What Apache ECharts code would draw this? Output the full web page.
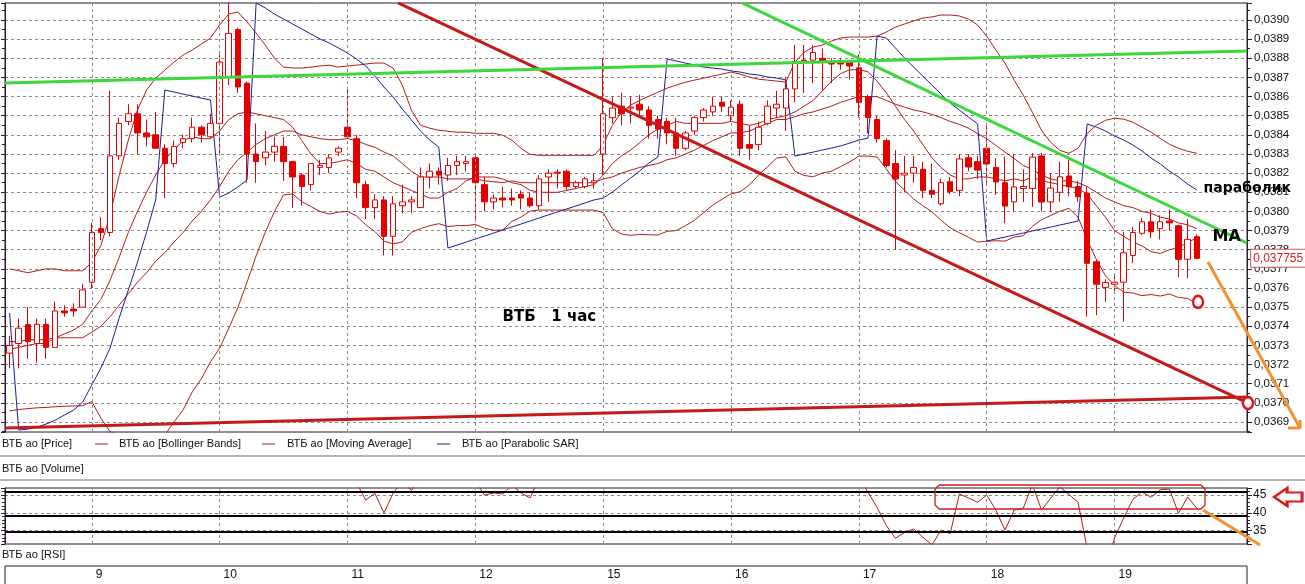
<!DOCTYPE html>
<html>
<head>
<meta charset="utf-8">
<script src="https://cdn.jsdelivr.net/npm/echarts@6/dist/echarts.min.js"></script>
<style>
html,body{margin:0;padding:0;background:#ffffff;}
#chart{width:1305px;height:584px;}
</style>
</head>
<body>
<div id="chart"></div>
<script>
// ================= DATA =================
// hourly sessions
const tradingDays = ['8','9','10','11','12','15','16','17','18','19'];
const sessionHours = ['10:00','11:00','12:00','13:00','14:00','15:00','16:00','17:00','18:00','19:00','20:00','21:00','22:00','23:00'];
const firstCandleHour = '15:00';
const emptySlotsAfter = 5;

// price values in points of 0.00001 (e.g. 3726 = 0,03726)
const openPts = [3726,3731,3741,3731,3741,3729,3748,3749,3750,3763,
 3791,3789,3829,3847,3851,3841,3840,3833,3825,3836,
 3838,3844,3839,3846,3870,3895,3867,3830,3828,3831,
 3834,3826,3819,3814,3823,3823,3831,3844,3838,3814,
 3802,3806,3787,3803,3805,3802,3818,3821,3819,3824,
 3825,3828,3814,3805,3807,3807,3809,3807,3803,3818,
 3820.5,3821,3813,3813,3815,3830,3849,3855,3854,3856,
 3853,3848,3847,3841,3833,3842,3849,3852,3857,3850,
 3856,3835,3835,3846,3854,3854,3864,3879,3879,3880,
 3878,3878,3878,3875,3860,3848,3837,3825,3819,3820,
 3822,3811,3804,3815.5,3811,3828,3826,3833,3823,3815,
 3805,3812,3812,3829,3805,3810,3818.5,3813,3809.5,3773.7,
 3760.3,3762,3763,3777,3788.6,3794.6,3791,3795,3792.5,3775,
 3786.8];
const highPts = [3735,3744,3750,3744,3744,3753,3751,3752,3762,3794,
 3797,3863,3849,3856,3856,3848,3852,3835,3837,3840,
 3849,3845,3851,3882,3909,3896,3868,3846,3842,3839,
 3839,3826,3820,3825,3827,3830,3834,3865,3840,3816,
 3809,3808,3808,3814,3808,3823,3825,3823,3828,3829,
 3829,3829,3818,3809,3813,3812,3811,3810,3819,3822,
 3822,3822,3816,3818,3820,3880,3860,3862,3860,3861,
 3855,3850,3849,3849,3842,3850,3854,3860,3860,3858,
 3858,3845,3847,3858,3863,3870,3887,3887,3887,3885,
 3880,3880,3879,3882,3861,3850,3838,3832,3829,3829,
 3826,3825,3817,3818,3830,3830,3829,3846,3828,3828.6,
 3830,3822,3830.5,3830.6,3820,3826,3827,3816,3812.9,3774.6,
 3764.5,3767,3789.4,3791.8,3796.5,3801,3798,3801,3793,3796,
 3788];
const lowPts = [3718,3718,3723,3721,3723,3729,3745,3745,3750,3760,
 3785,3787,3827,3845,3830,3834,3833,3807,3823,3833,
 3836,3836,3838,3829,3866,3862,3815,3815,3824,3826,
 3816,3802,3803,3811,3819,3820,3829,3838,3807,3796,
 3796,3777,3777,3799,3799,3802,3812,3814,3816,3819,
 3821,3796,3800,3801,3802,3803,3801,3802,3801,3805,
 3812,3811,3812,3812,3812,3819,3846,3845,3846,3849,
 3838,3838,3835,3829,3832,3840,3847,3850,3852,3847,
 3829,3827,3832,3845,3849,3842,3857,3862,3867,3863,
 3867,3874,3869,3849,3841,3836,3823,3780,3810,3815,
 3807,3807,3803,3809,3808,3821,3817,3815,3808.6,3793.8,
 3800,3805,3802.3,3800,3800,3805,3808,3805,3745,3745.8,
 3752.8,3758,3742.4,3773,3787.8,3786,3785.4,3790,3765.7,3765,
 3775];
const closePts = [3730,3739,3732,3741,3729,3748,3747,3748,3759,3789,
 3789,3829,3846,3851,3841,3839,3833,3825,3834,3838,
 3844,3840,3846,3878,3893,3865,3830,3826,3831,3834,
 3826,3818,3813,3825,3824,3828,3833,3839,3815,3802,
 3806,3787,3804,3805,3806,3818,3821,3819,3824,3826,
 3826,3815,3805,3807,3806,3806,3807,3803,3817,3820,
 3820,3813,3815,3817,3816,3851,3854,3851,3854.5,3853,
 3845,3843,3841,3833,3841,3849,3853,3855,3855,3854.5,
 3833,3833,3844,3855,3856,3864,3878,3878,3883,3878,
 3877,3877,3876,3857,3849,3838,3824,3817,3820,3823,
 3811,3809,3815,3810.3,3827.4,3823.2,3821.6,3824.8,3815.4,3802.8,
 3812.8,3813,3828.4,3804.9,3812.2,3818.1,3812.9,3807.7,3772.9,3762,
 3762.9,3763,3778.4,3789,3794.6,3789.4,3794.6,3794,3775,3785.4,
 3775.5];
const bbUpperPts = [3770,3769,3768,3769,3770,3770,3769,3769,3769,3773.3,
 3782.2,3797.9,3818.8,3837.2,3852.9,3863.4,3869.6,3873.8,3878,3881.7,
 3884.3,3887.4,3890.6,3897.4,3903.1,3904.2,3899,3893.2,3886.9,3880.1,
 3875.4,3874.9,3874.9,3875.4,3876,3876.4,3875.4,3876,3876.4,3877,
 3877.5,3877.5,3874.9,3866,3852.9,3845,3843.5,3842.4,3841.9,3841.4,
 3841.4,3840.8,3840.8,3840.8,3839.8,3837.2,3833,3829.8,3829.3,3829.3,
 3829.3,3829.3,3829.3,3829.3,3829.3,3834.6,3845,3851.8,3855.5,3858,
 3860.2,3862.3,3864.4,3866,3867.5,3868.6,3869.6,3870.7,3871.7,3872.8,
 3871.7,3870.2,3869.1,3868.6,3868.1,3867.5,3878,3883.2,3885.9,3886.9,
 3889,3890.6,3891.1,3891.1,3891.1,3891.6,3893.7,3896.3,3897.9,3899.5,
 3901,3901.6,3902.6,3902.6,3902.1,3900.5,3897.4,3891.6,3884.3,3877.5,
 3868.6,3860.7,3851.8,3842.4,3836.1,3831.9,3830.4,3833,3840.8,3845,
 3847.6,3848.7,3848.2,3846.6,3844,3841.4,3838.2,3835.1,3833,3831.4,
 3830.4];
const bbMiddlePts = [3732,3732,3733,3733,3733,3734,3734,3734,3734,3737,
 3740,3745,3751,3757,3763,3768,3774,3778.5,3784,3789,
 3795,3800,3806,3813,3821,3827,3831,3835,3838,3840,
 3842,3842,3840,3839,3838,3837.5,3837.5,3838,3837,3835,
 3833.5,3831,3829,3825,3821,3818,3818,3818,3817,3817,
 3817,3817,3816,3815.5,3815,3816,3815,3815,3815,3815,
 3815,3815,3815,3815,3815,3817,3818,3820,3821.5,3823,
 3824,3825,3827,3828,3830,3832,3834.5,3837,3839,3841,
 3841,3842,3844,3846,3848,3848,3849.5,3851,3852,3853.5,
 3855,3857,3858.5,3860,3860,3860,3858,3856,3854.5,3853,
 3852,3850.7,3849,3847,3845.5,3843.5,3840.7,3838,3834.5,3831,
 3827.6,3824,3822,3819,3817,3816,3816,3815,3813,3810,
 3807,3805,3803,3802,3800,3799,3797,3796,3794,3793,
 3791];
const bbLowerPts = [3695.8,3696.5,3697,3697.4,3697.6,3698,3698.2,3698.4,3698.5,3700.7,
 3692,3685,3683.2,3676.8,3673.1,3672.6,3678.4,3683.2,3690,3696.3,
 3705.7,3712.6,3721.4,3728.6,3738.9,3749.8,3763,3776.8,3789.1,3799.9,
 3808.6,3809.1,3805.1,3802.6,3800,3798.6,3799.6,3800,3797.6,3793,
 3789.5,3784.5,3783.1,3784,3789.1,3791,3792.5,3793.6,3792.1,3792.6,
 3792.6,3793.2,3791.2,3790.2,3790.2,3794.8,3797,3800.2,3800.7,3800.7,
 3800.7,3800.7,3800.7,3800.7,3800.7,3799.4,3791,3788.2,3787.5,3788,
 3787.8,3787.7,3789.6,3790,3792.5,3795.4,3799.4,3803.3,3806.3,3809.2,
 3810.3,3813.8,3818.9,3823.4,3827.9,3828.5,3821,3818.8,3818.1,3820.1,
 3821,3823.4,3825.9,3828.9,3828.9,3828.4,3822.3,3815.7,3811.1,3806.5,
 3803,3799.8,3795.4,3791.4,3788.9,3786.5,3784,3784.4,3784.7,3784.5,
 3786.6,3787.3,3792.2,3795.6,3797.9,3800.1,3801.6,3797,3785.2,3775,
 3766.4,3761.3,3757.8,3757.4,3756,3756.6,3755.8,3756.9,3755,3754.6,
 3751.6];
const maPts = [3728,3729,3730,3731,3731,3734,3736,3738,3741,3748,
 3754,3764,3776,3789,3800,3810,3819,3827,3832,3837,
 3839,3838,3838,3842,3848,3851,3852,3851,3850,3849,
 3848,3844,3837,3830,3825,3825,3826,3827,3825,3822,
 3821,3818,3815,3813,3811,3809,3807,3807,3810,3812,
 3816,3818,3818,3818,3817,3815,3814,3811,3810,3810,
 3810,3811,3812,3813,3814,3819,3825,3829,3832,3836,
 3840,3843,3845,3847,3846,3846,3846,3846,3846,3847,
 3846,3845,3846,3848,3849,3850,3852,3855,3858,3863,
 3868,3872,3874,3874,3873,3868,3862,3855,3848,3842,
 3835,3828,3823,3819,3817,3817,3818,3818,3817,3816,
 3817,3816,3818,3816,3815,3814,3813,3812,3809,3803,
 3797,3790,3787,3784,3782,3779,3778,3780,3781,3784,
 3786];
const sarPts = [3746.9,3685.8,3686.3,3687.4,3688.9,3691,3693.6,3696.2,3700.4,3709.3,
 3718.2,3728.6,3744.3,3758.9,3773.4,3789.2,3806,3863.4,3862.4,3861.3,
 3860.3,3859.2,3858.2,3807.5,3809.6,3812.8,3816.4,3908.9,3906.3,3903.1,
 3900.5,3897.9,3895.3,3892.7,3890.1,3888,3885.4,3882.8,3879.6,3876,
 3870.7,3865,3859.8,3853.5,3847.8,3842,3837.3,3833.6,3780.9,3782.4,
 3784,3785.6,3787.1,3788.7,3790.3,3791.9,3793.4,3795,3796.6,3798.2,
 3799.7,3801.3,3802.8,3804.4,3806,3807,3810.1,3813.8,3817.4,3821.1,
 3825.3,3828.4,3879.6,3878.6,3877.5,3876.5,3875.4,3874.9,3874.4,3873.4,
 3872.8,3871.8,3871.3,3870.2,3869.7,3868.7,3828.9,3830,3831,3832.1,
 3833.1,3834.2,3835.7,3837.3,3838.3,3891.6,3890.6,3885.4,3880.1,3875.4,
 3870.7,3866,3861.3,3856.6,3853,3849.3,3845.7,3784.5,3785.6,3786.6,
 3787.7,3788.7,3789.8,3790.8,3791.8,3792.9,3793.9,3795,3845.7,3844.1,
 3842,3839.4,3837.3,3834.7,3831.6,3827.9,3824.8,3821.1,3818,3814.3,
 3811.2];
// RSI: only the stretches that appear inside the panel [first candle index, values]
const rsiSegments = [
  [38, [48.5,43.6,45.5,40,45.5,49,46.3,50]],
  [51, [49,45,45.6,45.3,47.8,45.6,44.2,50]],
  [93, [50,45.8,41.5,36.5,32.9,34.5,35.5,33.2,31,35.2,
        34.2,45.3,44.2,43,45,40.8,35.2,40.8,41.3,48,
        40.8,44.1,47.3,45.2,43,30,25,24,33,38.6,
        43.8,45.9,44.4,46.5,46.7,39.9,44.5,41.3]]
];
// user drawn levels
const priceLevelPts = [3900, 3853, 3780];
const rsiLevels = [45.88, 39.13, 34.64];
// trend lines: [slot, points] pairs (slot = hourly bar position)
const redTrendA = [[42.54, 3908.9], [135.61, 3699.9]];
const redTrendB = [[-0.5, 3686.9], [135.61, 3703.1]];
const greenTrendA = [[-0.5, 3867.1], [135.5, 3883.8]];
const greenTrendB = [[80.21, 3908.9], [135.5, 3783.5]];
const orangeArrow = [[131.23, 3773.6], [141.31, 3686.9]];
const orangeArrowHead = [[140.0, 3686.9], [141.31, 3686.9], [141.31, 3691.0]];
const circleMarks = [[135.61, 3699.9], [130.14, 3752.7]];
const noteTexts = ['ВТБ   1 час', 'параболик', 'MA'];
const noteAnchors = [[53.92, 3744.9], [130.69, 3812.2], [131.67, 3786.6]];
// RSI panel annotations [slot, rsi]
const rsiOrangeLine = [[130.69, 40.82], [136.93, 30.99]];
const rsiBoxSlots = [101.34, 130.9];   // left / right edge of the highlight box
const rsiBoxLevels = [41.1, 47.84];    // bottom / top edge of the highlight box
const rsiArrowCenter = [140.0, 44.47];

// ================= BUILD =================
const N = closePts.length;
const toPrice = v => v == null ? null : Math.round(v * 10) / 1e6;
const allSlots = [];
tradingDays.forEach(d => sessionHours.forEach(h => allSlots.push(d + ' ' + h)));
const startIdx = sessionHours.indexOf(firstCandleHour);
const categories = allSlots.slice(startIdx, startIdx + N);
for (let k = 0; k < emptySlotsAfter; k++) categories.push('+' + (k + 1));
const M = categories.length;
const dayStarts = [];
categories.forEach((c, i) => { if (i < N && c.endsWith(' 10:00')) dayStarts.push(i); });
const isDayStart = i => dayStarts.indexOf(i) >= 0;

const candleData = openPts.map((o, i) => [toPrice(o), toPrice(closePts[i]), toPrice(lowPts[i]), toPrice(highPts[i])]);
const rsiData = new Array(N).fill(null);
rsiSegments.forEach(([s, vals]) => vals.forEach((v, k) => { rsiData[s + k] = v; }));
const ptsLine = arr => arr.map(([x, y]) => [x, toPrice(y)]);
const lastClose = toPrice(closePts[N - 1]);
// highlight box outline with small cut corners
const CUT_X = 0.45, CUT_Y = 1.1;
const [bx0, bx1] = rsiBoxSlots, [by0, by1] = rsiBoxLevels;
const rsiBoxOutline = [[bx0 + CUT_X, by1], [bx1 - CUT_X, by1], [bx1, by1 - CUT_Y], [bx1, by0 + CUT_Y],
  [bx1 - CUT_X, by0], [bx0 + CUT_X, by0], [bx0, by0 + CUT_Y], [bx0, by1 - CUT_Y], [bx0 + CUT_X, by1]];

// layout
const CANVAS_W = 1305, PLOT_LEFT = 5, PLOT_RIGHT = 58;
const PLOT_W = CANVAS_W - PLOT_LEFT - PLOT_RIGHT;
const OVER_W = CANVAS_W - PLOT_LEFT;            // overlay area reaches into the label column
const OVER_MAX = -0.5 + M * OVER_W / PLOT_W;    // same slot width as the plot
const TAG_SLOT = M - 0.5 + 0.4;                 // last-price tag just right of the plot edge

const FONT = '"Liberation Sans", Arial, sans-serif';
const NOTE_FONT = '"DejaVu Sans", "Liberation Sans", sans-serif';
const FRAME = '#2e1a33';
const CANDLE = '#e50000';
const BAND = '#b11c1c';
const SAR = '#1d1d94';
const Y_MIN = 0.0368478, Y_MAX = 0.0390888;
const RSI_MIN = 31.27, RSI_MAX = 47.0;

const dayLineStyle = {color:'#8a8a8a', type:[3,3], width:1};

const option = {
  animation: false,
  backgroundColor: '#ffffff',
  textStyle: {fontFamily: FONT},
  grid: [
    {left:PLOT_LEFT, right:PLOT_RIGHT, top:3, height:429, show:true, borderColor:FRAME, borderWidth:1, containLabel:false, outerBoundsMode:'none'},
    {left:PLOT_LEFT, right:PLOT_RIGHT, top:488, height:56, show:true, borderColor:FRAME, borderWidth:1, containLabel:false, outerBoundsMode:'none'},
    {left:PLOT_LEFT, right:PLOT_RIGHT, top:566, height:26, show:true, borderColor:FRAME, borderWidth:1, containLabel:false, outerBoundsMode:'none'},
    {left:PLOT_LEFT, width:OVER_W, top:3, height:429, show:false, containLabel:false, outerBoundsMode:'none'},
    {left:PLOT_LEFT, width:OVER_W, top:488, height:56, show:false, containLabel:false, outerBoundsMode:'none'}
  ],
  xAxis: [
    {type:'category', gridIndex:0, data:categories, show:false, boundaryGap:true},
    {type:'value', gridIndex:3, min:-0.5, max:OVER_MAX, show:false},
    {type:'category', gridIndex:1, data:categories, show:false, boundaryGap:true},
    {type:'value', gridIndex:4, min:-0.5, max:OVER_MAX, show:false},
    {type:'category', gridIndex:2, data:categories, position:'top', boundaryGap:true,
     axisLine:{show:true, lineStyle:{color:FRAME}},
     axisTick:{show:true, inside:true, length:26, alignWithLabel:true, interval:(i) => isDayStart(i), lineStyle:{color:FRAME}},
     axisLabel:{show:true, inside:true, interval:(i) => isDayStart(i), formatter:v => v.split(' ')[0],
       align:'left', verticalAlign:'top', padding:[0,0,0,4], margin:3, fontSize:12, color:'#111', fontFamily:FONT},
     splitLine:{show:false}}
  ],
  yAxis: [
    {type:'value', gridIndex:0, position:'right', min:Y_MIN, max:Y_MAX, splitNumber:22, minInterval:0.0001, maxInterval:0.0001,
     axisLine:{show:true, lineStyle:{color:FRAME}},
     axisTick:{show:true, length:5, lineStyle:{color:FRAME}},
     minorTick:{show:true, splitNumber:2, length:3, lineStyle:{color:FRAME}},
     axisLabel:{show:true, margin:7, color:'#111', fontSize:11.5, fontFamily:FONT,
       formatter:v => (Math.abs(v * 1e4 - Math.round(v * 1e4)) < 1e-6) ? v.toFixed(4).replace('.', ',') : ''},
     splitLine:{show:true, lineStyle:{color:'#8a8a8a', type:[3,3], width:1}}},
    {type:'value', gridIndex:0, position:'left', min:Y_MIN, max:Y_MAX, splitNumber:22, minInterval:0.0001, maxInterval:0.0001,
     axisLine:{show:true, lineStyle:{color:FRAME}},
     axisTick:{show:true, length:4, lineStyle:{color:FRAME}},
     minorTick:{show:true, splitNumber:2, length:3, lineStyle:{color:FRAME}},
     axisLabel:{show:false}, splitLine:{show:false}},
    {type:'value', gridIndex:1, position:'right', min:RSI_MIN, max:RSI_MAX, splitNumber:3, minInterval:5, maxInterval:5,
     axisLine:{show:true, lineStyle:{color:FRAME}},
     axisTick:{show:true, length:5, lineStyle:{color:FRAME}},
     minorTick:{show:true, splitNumber:5, length:3, lineStyle:{color:FRAME}},
     axisLabel:{show:true, margin:6, color:'#111', fontSize:12, fontFamily:FONT,
       formatter:v => (Math.abs(v - Math.round(v)) < 1e-6 && Math.round(v) % 5 === 0) ? String(Math.round(v)) : ''},
     splitLine:{show:true, lineStyle:{color:'#8a8a8a', type:[3,3], width:1}}},
    {type:'value', gridIndex:1, position:'left', min:RSI_MIN, max:RSI_MAX, splitNumber:3, minInterval:5, maxInterval:5,
     axisLine:{show:true, lineStyle:{color:FRAME}},
     axisTick:{show:true, length:4, lineStyle:{color:FRAME}},
     minorTick:{show:true, splitNumber:5, length:3, lineStyle:{color:FRAME}},
     axisLabel:{show:false}, splitLine:{show:false}},
    {type:'value', gridIndex:2, show:false, min:0, max:1},
    {type:'value', gridIndex:3, show:false, min:Y_MIN, max:Y_MAX},
    {type:'value', gridIndex:4, show:false, min:RSI_MIN, max:RSI_MAX}
  ],
  series: [
    {name:'BB upper', type:'line', xAxisIndex:0, yAxisIndex:0, data:bbUpperPts.map(toPrice), symbol:'none', silent:true, z:2,
     lineStyle:{color:BAND, width:1},
     markLine:{silent:true, symbol:'none', label:{show:false}, lineStyle:dayLineStyle,
       data: dayStarts.map(i => ({xAxis:i}))}},
    {name:'BB middle', type:'line', xAxisIndex:0, yAxisIndex:0, data:bbMiddlePts.map(toPrice), symbol:'none', silent:true, z:2,
     lineStyle:{color:BAND, width:1}},
    {name:'BB lower', type:'line', xAxisIndex:0, yAxisIndex:0, data:bbLowerPts.map(toPrice), symbol:'none', silent:true, z:2,
     lineStyle:{color:BAND, width:1}},
    {name:'MA', type:'line', xAxisIndex:0, yAxisIndex:0, data:maPts.map(toPrice), symbol:'none', silent:true, z:2,
     lineStyle:{color:BAND, width:1}},
    {name:'SAR', type:'line', xAxisIndex:0, yAxisIndex:0, data:sarPts.map(toPrice), symbol:'none', silent:true, z:2,
     lineStyle:{color:SAR, width:1}},
    {name:'Price', type:'candlestick', xAxisIndex:0, yAxisIndex:0, data:candleData, barWidth:6, z:3, silent:true,
     itemStyle:{color:'#ffffff', color0:CANDLE, borderColor:CANDLE, borderColor0:CANDLE, borderColorDoji:CANDLE, borderWidth:1}},
    // horizontal levels
    {name:'levels', type:'line', xAxisIndex:0, yAxisIndex:0, data:new Array(N).fill(null), symbol:'none', silent:true, z:5,
     markLine:{silent:true, symbol:'none', label:{show:false}, lineStyle:{color:'#000', width:2, type:'solid'},
       data: priceLevelPts.map(v => ({yAxis: toPrice(v)}))}},
    // last price tag
    {type:'scatter', xAxisIndex:1, yAxisIndex:5, clip:false, silent:true, z:10, symbol:'circle', symbolSize:1,
     itemStyle:{color:'rgba(0,0,0,0)', opacity:1},
     label:{show:true, position:'right', distance:0, formatter:p => p.value[1].toFixed(6).replace('.', ','),
       color:'#cc2020', backgroundColor:'#ffffff', borderColor:'#c85a5a', borderWidth:1, padding:[3,2,2,2],
       fontSize:12, fontFamily:FONT},
     data:[[TAG_SLOT, lastClose]]},
    {type:'line', xAxisIndex:1, yAxisIndex:5, data:ptsLine(redTrendA), symbol:'none', silent:true, z:5,
     lineStyle:{color:'#c41a1a', width:3}},
    {type:'line', xAxisIndex:1, yAxisIndex:5, data:ptsLine(redTrendB), symbol:'none', silent:true, z:5,
     lineStyle:{color:'#c41a1a', width:3}},
    {type:'line', xAxisIndex:1, yAxisIndex:5, data:ptsLine(greenTrendA), symbol:'none', silent:true, z:5,
     lineStyle:{color:'#3ad83a', width:3}},
    {type:'line', xAxisIndex:1, yAxisIndex:5, data:ptsLine(greenTrendB), symbol:'none', silent:true, z:5,
     lineStyle:{color:'#3ad83a', width:3}},
    {type:'line', xAxisIndex:1, yAxisIndex:5, data:ptsLine(orangeArrow), symbol:'none', silent:true, z:6, clip:false,
     lineStyle:{color:'#f2922f', width:3}},
    {type:'line', xAxisIndex:1, yAxisIndex:5, data:ptsLine(orangeArrowHead), symbol:'none', silent:true, z:6, clip:false,
     lineStyle:{color:'#f2922f', width:3}},
    {type:'scatter', xAxisIndex:1, yAxisIndex:5, data:ptsLine(circleMarks), symbol:'circle', symbolSize:[10,12], clip:false, silent:true, z:7,
     itemStyle:{color:'#ffffff', borderColor:'#e0141e', borderWidth:2.5, opacity:1}},
    {type:'scatter', xAxisIndex:1, yAxisIndex:5, clip:false, silent:true, z:9, symbol:'circle', symbolSize:1,
     itemStyle:{color:'rgba(0,0,0,0)', opacity:1},
     label:{show:true, position:'right', distance:0, color:'#000', fontWeight:'bold', fontFamily:NOTE_FONT, formatter:p => p.name},
     data: noteTexts.map((t, i) => ({name:t, value:[noteAnchors[i][0], toPrice(noteAnchors[i][1])],
        label:{fontSize: [15, 14, 16][i]}}))},
    // RSI panel
    {name:'RSI', type:'line', xAxisIndex:2, yAxisIndex:2, data:rsiData, symbol:'none', connectNulls:false, silent:true, z:3,
     lineStyle:{color:BAND, width:1},
     markLine:{silent:true, symbol:'none', label:{show:false},
       data: dayStarts.map(i => ({xAxis:i, lineStyle:dayLineStyle}))
         .concat(rsiLevels.map(v => ({yAxis:v, lineStyle:{color:'#000', width:2, type:'solid'}})))}},
    {type:'line', xAxisIndex:3, yAxisIndex:6, data:rsiOrangeLine, symbol:'none', silent:true, z:6, clip:false,
     lineStyle:{color:'#f2922f', width:3}},
    {type:'line', xAxisIndex:3, yAxisIndex:6, data:rsiBoxOutline, symbol:'none', silent:true, z:7, clip:false,
     lineStyle:{color:'#c81e1e', width:1.3}},
    {type:'scatter', xAxisIndex:3, yAxisIndex:6, data:[rsiArrowCenter], symbol:'path://M0,10L13,0L13,5L28,5L28,15L13,15L13,20Z',
     symbolSize:[28,18], clip:false, silent:true, z:6,
     itemStyle:{color:'#ffffff', borderColor:'#e01818', borderWidth:2.5, opacity:1}}
  ],
  graphic: [
    {type:'text', x:2, y:444, silent:true, style:{text:'ВТБ ао [Price]', fill:'#111', font:'11px ' + FONT, verticalAlign:'middle'}},
    {type:'line', silent:true, shape:{x1:95, y1:444, x2:108, y2:444}, style:{stroke:BAND, lineWidth:1}},
    {type:'text', x:119, y:444, silent:true, style:{text:'ВТБ ао [Bollinger Bands]', fill:'#111', font:'11px ' + FONT, verticalAlign:'middle'}},
    {type:'line', silent:true, shape:{x1:262, y1:444, x2:275, y2:444}, style:{stroke:BAND, lineWidth:1}},
    {type:'text', x:287, y:444, silent:true, style:{text:'ВТБ ао [Moving Average]', fill:'#111', font:'11px ' + FONT, verticalAlign:'middle'}},
    {type:'line', silent:true, shape:{x1:437, y1:444, x2:450, y2:444}, style:{stroke:SAR, lineWidth:1}},
    {type:'text', x:462, y:444, silent:true, style:{text:'ВТБ ао [Parabolic SAR]', fill:'#111', font:'11px ' + FONT, verticalAlign:'middle'}},
    {type:'rect', silent:true, shape:{x:0, y:455, width:1305, height:2}, style:{fill:'#b4b4b4'}},
    {type:'text', x:2, y:469, silent:true, style:{text:'ВТБ ао [Volume]', fill:'#111', font:'11px ' + FONT, verticalAlign:'middle'}},
    {type:'rect', silent:true, shape:{x:0, y:479, width:1305, height:2}, style:{fill:'#b4b4b4'}},
    {type:'text', x:2, y:555, silent:true, style:{text:'ВТБ ао [RSI]', fill:'#111', font:'11px ' + FONT, verticalAlign:'middle'}}
  ]
};

const chart = echarts.init(document.getElementById('chart'), null, {renderer:'canvas', width:1305, height:584});
chart.setOption(option);
</script>
</body>
</html>
